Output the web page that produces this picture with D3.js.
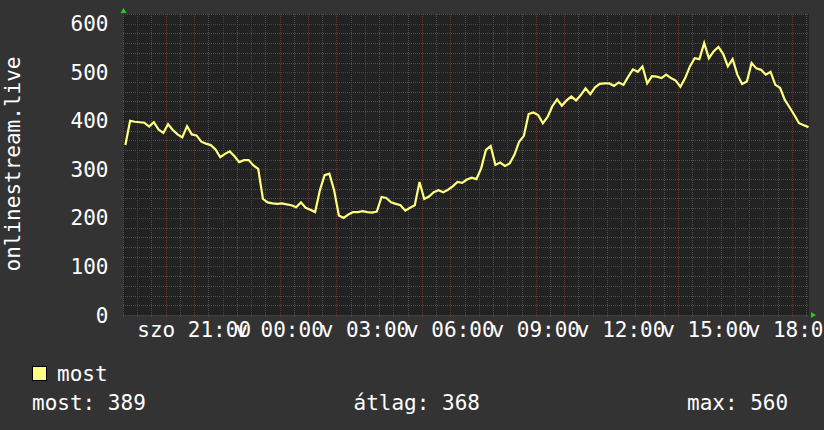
<!DOCTYPE html>
<html>
<head>
<meta charset="utf-8">
<script src="https://cdn.jsdelivr.net/npm/d3@7"></script>
<style>
  body { margin: 0; background: #333333; }
  svg { display: block; font-family: "DejaVu Sans Mono", monospace; }
</style>
</head>
<body>
<div id="chart"></div>
<script>
// Series and labels
var seriesName = "most";
var axisTitle = "onlinestream.live";
var dayNames = ["v", "h", "k", "sze", "cs", "p", "szo"];
var yTicks = [0, 100, 200, 300, 400, 500, 600];

// One sample every 10 minutes, first one Saturday 18:35
var startTime = new Date(2024, 2, 16, 18, 35);
var stepMinutes = 10;
var values = [
  350, 400, 398, 397, 396, 388, 397, 382, 375, 393, 381, 372, 366, 389, 372, 370,
  357, 353, 350, 341, 325, 332, 337, 327, 315, 319, 319, 308, 301, 239, 232, 230,
  229, 230, 228, 226, 222, 232, 221, 217, 212, 257, 288, 291, 257, 205, 200, 207,
  212, 212, 214, 212, 211, 213, 243, 241, 232, 229, 226, 215, 221, 226, 274, 239,
  244, 253, 257, 253, 258, 265, 274, 272, 279, 283, 280, 302, 340, 348, 309, 314,
  307, 312, 330, 357, 369, 414, 417, 412, 395, 408, 430, 444, 431, 442, 450, 442,
  453, 467, 455, 469, 476, 477, 477, 472, 479, 474, 491, 506, 501, 512, 477, 492,
  491, 488, 495, 488, 483, 470, 488, 512, 529, 527, 560, 529, 543, 552, 538, 512,
  527, 495, 476, 481, 519, 508, 505, 495, 501, 474, 468, 443, 428, 412, 395, 391,
  387
];

// Legend statistics
var statLabels = ["most", "átlag", "max"];
var statValues = [389, 368, 560];

var width = 824, height = 430;
var plot = { left: 123, right: 809, top: 14, bottom: 315 };

var points = values.map(function(v, i) {
  return { t: d3.timeMinute.offset(startTime, i * stepMinutes), v: v };
});

var x = d3.scaleTime()
  .domain([new Date(2024, 2, 16, 18, 30), new Date(2024, 2, 17, 18, 36)])
  .range([plot.left, plot.right]);

var y = d3.scaleLinear()
  .domain([0, 620])
  .range([plot.bottom, plot.top]);

var svg = d3.select("#chart").append("svg")
  .attr("width", width)
  .attr("height", height);

svg.append("rect")
  .attr("width", width).attr("height", height)
  .attr("fill", "#333333");

// plot background
svg.append("rect")
  .attr("x", plot.left).attr("y", plot.top)
  .attr("width", plot.right - plot.left)
  .attr("height", plot.bottom - plot.top)
  .attr("fill", "#222222");

var grid = svg.append("g").attr("shape-rendering", "crispEdges");

// minor grid: every 20 units / every 30 minutes
var minorY = d3.range(0, 621, 20).filter(function(d) { return d % 100 != 0; });
var minorX = x.ticks(d3.timeMinute.every(30)).filter(function(d) { return d.getMinutes() != 0; });
var majorX = x.ticks(d3.timeHour.every(1));

function px(v) { return Math.round(v) + 0.5; }

grid.selectAll(".minor-y")
  .data(minorY)
  .enter().append("line")
    .attr("x1", plot.left - 2).attr("x2", plot.right)
    .attr("y1", function(d) { return px(y(d)); })
    .attr("y2", function(d) { return px(y(d)); })
    .attr("stroke", "#4e4e4e")
    .attr("stroke-dasharray", "1,1");

grid.selectAll(".minor-x")
  .data(minorX)
  .enter().append("line")
    .attr("x1", function(d) { return px(x(d)); })
    .attr("x2", function(d) { return px(x(d)); })
    .attr("y1", plot.top).attr("y2", plot.bottom + 2)
    .attr("stroke", "#4e4e4e")
    .attr("stroke-dasharray", "1,1");

grid.selectAll(".major-y")
  .data(yTicks)
  .enter().append("line")
    .attr("x1", plot.left - 2).attr("x2", plot.right)
    .attr("y1", function(d) { return px(y(d)); })
    .attr("y2", function(d) { return px(y(d)); })
    .attr("stroke", "#6e3434")
    .attr("stroke-dasharray", "1,1");

grid.selectAll(".major-x")
  .data(majorX)
  .enter().append("line")
    .attr("x1", function(d) { return px(x(d)); })
    .attr("x2", function(d) { return px(x(d)); })
    .attr("y1", plot.top).attr("y2", plot.bottom + 3)
    .attr("stroke", "#6e3434")
    .attr("stroke-dasharray", "1,1");

// y tick labels
svg.append("g").selectAll("text")
  .data(yTicks)
  .enter().append("text")
    .attr("x", 108.5)
    .attr("y", function(d) { return y(d); })
    .attr("dy", "0.36em")
    .attr("text-anchor", "end")
    .attr("fill", "#ffffff")
    .style("font-size", "21px")
    .text(function(d) { return d; });

// x tick labels every 3 hours, day + time
var fmtTime = d3.timeFormat("%H:%M");
svg.append("g").selectAll("text")
  .data(x.ticks(d3.timeHour.every(3)))
  .enter().append("text")
    .attr("x", function(d) { return x(d); })
    .attr("y", 337)
    .attr("text-anchor", "middle")
    .attr("fill", "#ffffff")
    .style("font-size", "21px")
    .text(function(d) { return dayNames[d.getDay()] + " " + fmtTime(d); });

// vertical axis title
svg.append("text")
  .attr("transform", "translate(20,164) rotate(-90)")
  .attr("text-anchor", "middle")
  .attr("fill", "#ffffff")
  .style("font-size", "21px")
  .text(axisTitle);

// the series line
var line = d3.line()
  .x(function(d) { return x(d.t); })
  .y(function(d) { return y(d.v); });

svg.append("path")
  .datum(points)
  .attr("d", line)
  .attr("fill", "none")
  .attr("stroke", "#ffff80")
  .attr("stroke-width", 2.2)
  .attr("stroke-linejoin", "miter");

// green arrows at axis ends
svg.append("path")
  .attr("d", d3.line()([[plot.left - 2.5, 13], [plot.left + 3.5, 13], [plot.left + 0.5, 8]]))
  .attr("fill", "#22cc22");
svg.append("path")
  .attr("d", d3.line()([[plot.right + 2, plot.bottom - 3], [plot.right + 2, plot.bottom + 3], [plot.right + 7, plot.bottom]]))
  .attr("fill", "#22cc22");

// legend
svg.append("rect")
  .attr("x", 32.5).attr("y", 366.5)
  .attr("width", 14).attr("height", 14)
  .attr("fill", "#ffff80")
  .attr("stroke", "#000000");

svg.append("text")
  .attr("x", 57).attr("y", 381)
  .attr("fill", "#ffffff")
  .style("font-size", "21px")
  .text(seriesName);

var statX = [32, 353.5, 687];
svg.append("g").selectAll("text")
  .data(statLabels)
  .enter().append("text")
    .attr("x", function(d, i) { return statX[i]; })
    .attr("y", 410)
    .attr("fill", "#ffffff")
    .style("font-size", "21px")
    .text(function(d, i) { return d + ": " + statValues[i]; });
</script>
</body>
</html>
